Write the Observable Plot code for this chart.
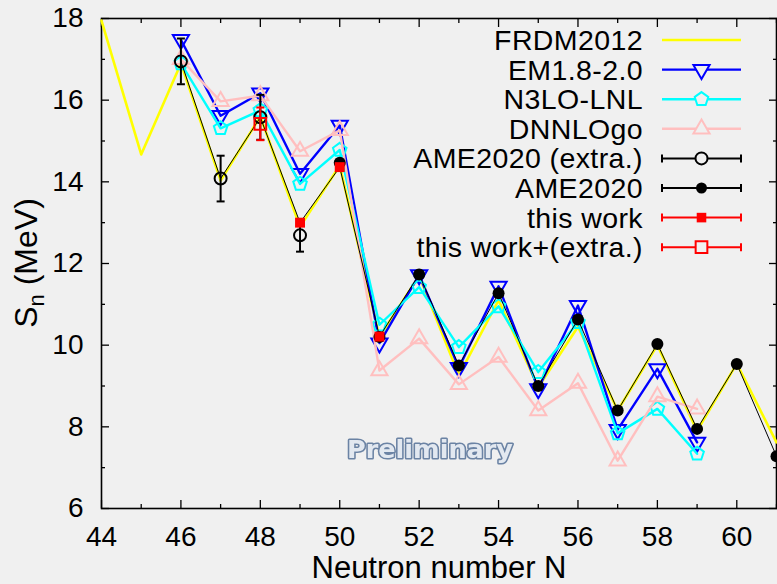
<!DOCTYPE html>
<html>
<head>
<meta charset="utf-8">
<script src="https://cdn.jsdelivr.net/npm/d3@7"></script>
<script src="https://cdn.jsdelivr.net/npm/@observablehq/plot@0.6"></script>
<style>
  html, body { margin: 0; padding: 0; background: #f0f0f0; }
</style>
</head>
<body>
<div id="chart"></div>
<script>
// One-neutron separation energies S_n (MeV) versus neutron number N

// FRDM2012 (line only)
const frdmN = [44, 45, 46, 47, 48, 49, 50, 51, 52, 53, 54, 55, 56, 57, 58, 59, 60, 61];
const frdmSn = [17.95, 14.67, 16.9, 14.03, 15.6, 12.9, 14.4, 10.2, 11.7, 9.26, 11.1, 8.97, 10.45, 8.4, 10.0, 7.9, 9.55, 7.62];

// ab initio predictions
const emN = [46, 47, 48, 49, 50, 51, 52, 53, 54, 55, 56, 57, 58, 59];
const emSn = [17.48, 15.62, 16.17, 14.2, 15.38, 10.05, 11.72, 9.45, 11.44, 8.93, 10.97, 7.93, 9.42, 7.62];

const n3loN = [46, 47, 48, 49, 50, 51, 52, 53, 54, 55, 56, 57, 58, 59];
const n3loSn = [16.9, 15.31, 15.75, 13.95, 14.78, 10.5, 11.42, 9.95, 10.95, 9.34, 10.56, 7.84, 8.44, 7.34];

const dnnloN = [46, 47, 48, 49, 50, 51, 52, 53, 54, 55, 56, 57, 58, 59];
const dnnloSn = [17.0, 15.97, 16.11, 14.75, 15.26, 9.38, 10.16, 9.04, 9.71, 8.40, 9.07, 7.17, 8.74, 8.44];

// AME2020 extrapolated and measured values
const ameExtraN = [46, 47, 48, 49];
const ameExtraSn = [16.95, 14.08, 15.58, 12.69];
const ameExtraErr = [0.56, 0.56, 0.55, 0.40];

const ameN = [50, 51, 52, 53, 54, 55, 56, 57, 58, 59, 60, 61];
const ameSn = [14.47, 10.2, 11.73, 9.50, 11.27, 9.0, 10.63, 8.40, 10.03, 7.95, 9.54, 7.28];
const ameErr = [0.02, 0.01, 0.01, 0.01, 0.01, 0.01, 0.01, 0.01, 0.02, 0.02, 0.05, 0.05];

// this work
const thisN = [49, 50, 51];
const thisSn = [13.0, 14.36, 10.21];
const thisErr = [0.03, 0.03, 0.03];

const thisExtraN = [48];
const thisExtraSn = [15.42];
const thisExtraErr = [0.40];

// axis ticks
const xMajor = [44, 46, 48, 50, 52, 54, 56, 58, 60];
const xMinor = [45, 47, 49, 51, 53, 55, 57, 59, 61];
const yMajor = [6, 8, 10, 12, 14, 16, 18];
const yMinor = [7, 9, 11, 13, 15, 17];

// tables
const zip = (ns, vs, es) => ns.map((n, i) => ({N: n, Sn: vs[i], err: es ? es[i] : 0}));
const frdm = zip(frdmN, frdmSn);
const em = zip(emN, emSn);
const n3lo = zip(n3loN, n3loSn);
const dnnlo = zip(dnnloN, dnnloSn);
const ameExtra = zip(ameExtraN, ameExtraSn, ameExtraErr);
const ame = zip(ameN, ameSn, ameErr);
const thisWork = zip(thisN, thisSn, thisErr);
const thisExtra = zip(thisExtraN, thisExtraSn, thisExtraErr);

// thin connecting line: this work where measured, otherwise AME2020
const bestByN = new Map();
for (const d of ameExtra) bestByN.set(d.N, d.Sn);
for (const d of ame) bestByN.set(d.N, d.Sn);
for (const d of thisWork) bestByN.set(d.N, d.Sn);
const best = Array.from(bestByN, ([N, Sn]) => ({N, Sn})).sort((a, b) => a.N - b.N);

// marker shapes
const triDown = {draw(ctx, size) {
  const s = Math.sqrt(size / 0.433), h = s * 0.866;
  ctx.moveTo(-s / 2, -h / 3); ctx.lineTo(s / 2, -h / 3); ctx.lineTo(0, 2 * h / 3); ctx.closePath();
}};
const triUp = {draw(ctx, size) {
  const s = Math.sqrt(size / 0.433), h = s * 0.866;
  ctx.moveTo(-s / 2, h / 3); ctx.lineTo(s / 2, h / 3); ctx.lineTo(0, -2 * h / 3); ctx.closePath();
}};
const pentagon = {draw(ctx, size) {
  const R = Math.sqrt(size / 2.3776);
  for (let i = 0; i < 5; i++) {
    const a = -Math.PI / 2 + i * 2 * Math.PI / 5;
    const x = R * Math.cos(a), y = R * Math.sin(a);
    if (i) ctx.lineTo(x, y); else ctx.moveTo(x, y);
  }
  ctx.closePath();
}};
const cap = {draw(ctx, size) {
  const w = Math.sqrt(size / Math.PI);
  ctx.moveTo(-w, 0); ctx.lineTo(w, 0);
}};

const errorBars = (data, color, width) => [
  Plot.ruleX(data, {x: "N", y1: d => d.Sn - d.err, y2: d => d.Sn + d.err, stroke: color, strokeWidth: width}),
  Plot.dot(data, {x: "N", y: d => d.Sn - d.err, symbol: cap, r: 4, stroke: color, strokeWidth: width}),
  Plot.dot(data, {x: "N", y: d => d.Sn + d.err, symbol: cap, r: 4, stroke: color, strokeWidth: width})
];

const FONT = "'Liberation Sans', Arial, Helvetica, sans-serif";

const chart = Plot.plot({
  width: 777,
  height: 584,
  marginLeft: 101,
  marginRight: 1,
  marginTop: 18,
  marginBottom: 76,
  style: {background: "#f0f0f0", fontFamily: FONT, color: "black"},
  x: {domain: [44, 61]},
  y: {domain: [6, 18]},
  marks: [
    // tick labels
    Plot.axisX({ticks: xMajor, tickSize: 0, tickPadding: 18, fontSize: 28, label: null}),
    Plot.axisY({ticks: yMajor, tickSize: 0, tickPadding: 18, fontSize: 28, label: null}),
    // inward ticks on all four sides
    Plot.axisX({anchor: "bottom", ticks: xMajor, tickSize: -8, text: null, label: null, strokeWidth: 1.3}),
    Plot.axisX({anchor: "bottom", ticks: xMinor, tickSize: -4, text: null, label: null, strokeWidth: 1.3}),
    Plot.axisX({anchor: "top", ticks: xMajor, tickSize: -8, text: null, label: null, strokeWidth: 1.3}),
    Plot.axisX({anchor: "top", ticks: xMinor, tickSize: -4, text: null, label: null, strokeWidth: 1.3}),
    Plot.axisY({anchor: "left", ticks: yMajor, tickSize: -8, text: null, label: null, strokeWidth: 1.3}),
    Plot.axisY({anchor: "left", ticks: yMinor, tickSize: -4, text: null, label: null, strokeWidth: 1.3}),
    Plot.axisY({anchor: "right", ticks: yMajor, tickSize: -8, text: null, label: null, strokeWidth: 1.3}),
    Plot.axisY({anchor: "right", ticks: yMinor, tickSize: -4, text: null, label: null, strokeWidth: 1.3}),
    Plot.frame({stroke: "black", strokeWidth: 1.6}),

    // watermark
    Plot.text(["Preliminary"], {
      frameAnchor: "bottom-left", dx: 328.5, dy: -59, textAnchor: "middle", lineAnchor: "middle",
      fontFamily: "'DejaVu Sans', Verdana, sans-serif", fontWeight: "bold", fontSize: 25.5,
      fill: "#e2e8f0", stroke: "#6b83a4", strokeWidth: 3.2, paintOrder: "stroke",
      imageFilter: "blur(0.6px)"
    }),

    // model curves
    Plot.line(frdm, {x: "N", y: "Sn", stroke: "#ffff00", strokeWidth: 2.6}),
    Plot.line(em, {x: "N", y: "Sn", stroke: "#0000ff", strokeWidth: 2.4}),
    Plot.dot(em, {x: "N", y: "Sn", symbol: triDown, r: 6, stroke: "#0000ff", strokeWidth: 2, fill: "none"}),
    Plot.line(n3lo, {x: "N", y: "Sn", stroke: "#00ffff", strokeWidth: 2.4}),
    Plot.dot(n3lo, {x: "N", y: "Sn", symbol: pentagon, r: 6.2, stroke: "#00ffff", strokeWidth: 2, fill: "none"}),
    Plot.line(dnnlo, {x: "N", y: "Sn", stroke: "#ffbfbf", strokeWidth: 2.4}),
    Plot.dot(dnnlo, {x: "N", y: "Sn", symbol: triUp, r: 6, stroke: "#ffbfbf", strokeWidth: 2, fill: "none"}),

    // experimental values
    Plot.line(best, {x: "N", y: "Sn", stroke: "black", strokeWidth: 1}),
    ...errorBars(ameExtra, "black", 2),
    Plot.dot(ameExtra, {x: "N", y: "Sn", r: 6, stroke: "black", strokeWidth: 2, fill: "none"}),
    ...errorBars(ame, "black", 2),
    Plot.dot(ame, {x: "N", y: "Sn", r: 6, fill: "black"}),
    ...errorBars(thisWork, "#ff0000", 2),
    Plot.dot(thisWork, {x: "N", y: "Sn", symbol: "square", r: 5.6, fill: "#ff0000"}),
    ...errorBars(thisExtra, "#ff0000", 2),
    Plot.dot(thisExtra, {x: "N", y: "Sn", symbol: "square", r: 6.6, stroke: "#ff0000", strokeWidth: 2, fill: "none"}),

    // x axis title
    Plot.text(["Neutron number N"], {frameAnchor: "bottom", dy: 60, lineAnchor: "middle", fontSize: 31})
  ]
});

document.getElementById("chart").appendChild(chart);

// y axis title with subscript, and the key
const svg = d3.select(chart);
const ylab = svg.append("text")
  .attr("transform", "translate(37,263) rotate(-90)")
  .attr("text-anchor", "middle")
  .attr("font-family", FONT)
  .attr("font-size", 32)
  .attr("fill", "black");
ylab.append("tspan").text("S");
ylab.append("tspan").attr("font-size", 22).attr("dy", 7).text("n");
ylab.append("tspan").attr("dy", -7).text(" (MeV)");

const keyItems = [
  {label: "FRDM2012", color: "#ffff00", symbol: null, err: false, fill: "none", lw: 2.6},
  {label: "EM1.8-2.0", color: "#0000ff", symbol: triDown, err: false, fill: "none", lw: 2.4, r: 6},
  {label: "N3LO-LNL", color: "#00ffff", symbol: pentagon, err: false, fill: "none", lw: 2.4, r: 6.2},
  {label: "DNNLOgo", color: "#ffbfbf", symbol: triUp, err: false, fill: "none", lw: 2.4, r: 6},
  {label: "AME2020 (extra.)", color: "black", symbol: d3.symbolCircle, err: true, fill: "none", lw: 2, r: 6},
  {label: "AME2020", color: "black", symbol: d3.symbolCircle, err: true, fill: "black", lw: 2, r: 5.5},
  {label: "this work", color: "#ff0000", symbol: d3.symbolSquare, err: true, fill: "#ff0000", lw: 2, r: 5.4},
  {label: "this work+(extra.)", color: "#ff0000", symbol: d3.symbolSquare, err: true, fill: "none", lw: 2, r: 6.6}
];
const keyTextX = 643, keyX1 = 662, keyX2 = 741, keyY0 = 40, keyDy = 29.6;
const key = svg.append("g");
keyItems.forEach((it, i) => {
  const y = keyY0 + i * keyDy;
  const xm = (keyX1 + keyX2) / 2;
  key.append("text").attr("x", keyTextX).attr("y", y).attr("dy", "0.35em")
    .attr("text-anchor", "end").attr("font-family", FONT).attr("font-size", 28.5)
    .attr("letter-spacing", 0.4)
    .attr("fill", "black").text(it.label);
  key.append("line").attr("x1", keyX1).attr("x2", keyX2).attr("y1", y).attr("y2", y)
    .attr("stroke", it.color).attr("stroke-width", it.lw);
  if (it.err) {
    for (const x of [keyX1, keyX2]) {
      key.append("line").attr("x1", x).attr("x2", x).attr("y1", y - 4).attr("y2", y + 4)
        .attr("stroke", it.color).attr("stroke-width", 2);
    }
  }
  if (it.symbol) {
    key.append("path").attr("transform", `translate(${xm},${y})`)
      .attr("d", d3.symbol(it.symbol, Math.PI * it.r * it.r)())
      .attr("fill", it.fill === "none" ? "#f0f0f0" : it.fill)
      .attr("stroke", it.fill === "none" ? it.color : "none")
      .attr("stroke-width", 2);
  }
});
</script>
</body>
</html>
